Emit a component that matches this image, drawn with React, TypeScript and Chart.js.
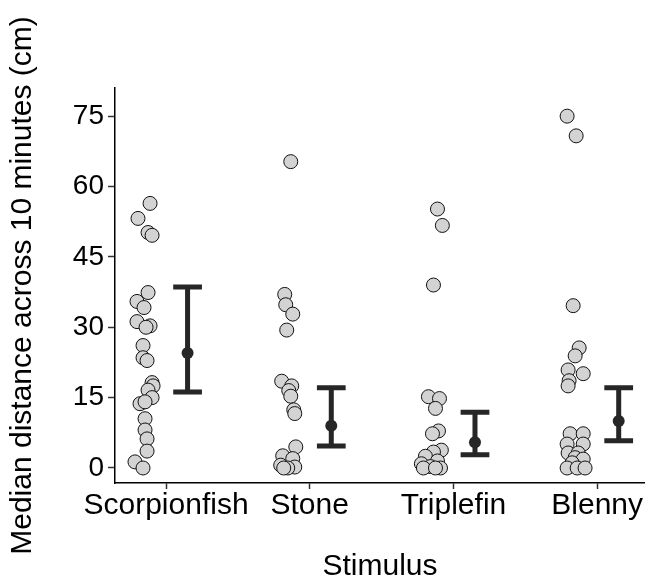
import React, { useEffect, useRef } from "react";
import { Chart, registerables } from "chart.js";

Chart.register(...registerables);

const categories = ["Scorpionfish", "Stone", "Triplefin", "Blenny"];
const yTicks = [0, 15, 30, 45, 60, 75];
const yTitle = "Median distance across 10 minutes (cm)";
const xTitle = "Stimulus";

// individual observations (cm) and their horizontal jitter (category units)
const scorpionfishValues = [56.4, 53.2, 50.2, 49.6, 37.4, 35.5, 34.2, 31.2, 30.3, 30.0, 26.1, 23.5, 22.9, 18.2, 17.5, 16.6, 15.0, 13.7, 14.1, 10.5, 8.1, 6.2, 3.6, 1.3, 0.0];
const scorpionfishJitter = [-0.111, -0.195, -0.125, -0.097, -0.125, -0.202, -0.153, -0.202, -0.111, -0.139, -0.16, -0.16, -0.132, -0.097, -0.09, -0.125, -0.097, -0.181, -0.146, -0.146, -0.146, -0.132, -0.132, -0.216, -0.16];

const stoneValues = [65.3, 37.0, 34.8, 32.8, 29.4, 18.5, 17.5, 16.5, 15.3, 12.4, 11.6, 4.5, 2.6, 2.0, 0.6, 0.2, 0.0, 0.0];
const stoneJitter = [-0.132, -0.174, -0.167, -0.118, -0.16, -0.195, -0.125, -0.146, -0.132, -0.111, -0.104, -0.097, -0.188, -0.118, -0.202, -0.104, -0.153, -0.181];

const triplefinValues = [55.2, 51.7, 39.0, 15.2, 14.8, 12.7, 7.9, 7.3, 3.8, 3.4, 2.5, 1.5, 0.9, 0.3, 0.0, 0.0, 0.0];
const triplefinJitter = [-0.111, -0.077, -0.139, -0.174, -0.097, -0.125, -0.104, -0.146, -0.084, -0.139, -0.195, -0.111, -0.223, -0.16, -0.09, -0.209, -0.125];

const blennyValues = [75.0, 70.8, 34.6, 25.6, 23.9, 20.9, 20.1, 18.6, 17.5, 7.3, 7.3, 5.1, 5.1, 3.2, 3.2, 2.2, 1.9, 1.1, 0.0, 0.0, 0.0];
const blennyJitter = [-0.209, -0.146, -0.167, -0.125, -0.153, -0.202, -0.097, -0.195, -0.202, -0.188, -0.097, -0.209, -0.097, -0.202, -0.132, -0.153, -0.097, -0.174, -0.209, -0.139, -0.084];

// summary: mean and interval
const means = [24.5, 9.0, 5.5, 10.0];
const lowerCI = [16.2, 4.7, 2.8, 5.8];
const upperCI = [38.6, 17.1, 11.9, 17.1];

const summaryOffset = 0.15;
const capHalf = 0.1;
const xMin = 0.645;
const xMax = 4.333;
const yMin = -3.2;
const yMax = 81;

const FONT = "'Liberation Sans', Arial, Helvetica, sans-serif";

export default function App() {
  const ref = useRef<HTMLCanvasElement>(null);

  useEffect(() => {
    const canvas = ref.current;
    if (!canvas) return;
    Chart.defaults.font.family = FONT;
    Chart.defaults.color = "#000";

    const valueSets = [scorpionfishValues, stoneValues, triplefinValues, blennyValues];
    const jitterSets = [scorpionfishJitter, stoneJitter, triplefinJitter, blennyJitter];
    const pointData = valueSets.flatMap((vals, g) =>
      vals.map((v, i) => ({ x: g + 1 + jitterSets[g][i], y: v }))
    );
    const meanData = means.map((m, g) => ({ x: g + 1 + summaryOffset, y: m }));

    const errorBars = {
      id: "errorBars",
      beforeDatasetsDraw(chart: any) {
        const { ctx, scales } = chart;
        const xs = scales.x;
        const ys = scales.y;
        ctx.save();
        ctx.strokeStyle = "#262626";
        ctx.lineWidth = 5;
        ctx.lineCap = "butt";
        means.forEach((_, g) => {
          const c = g + 1 + summaryOffset;
          const cx = xs.getPixelForValue(c);
          const xl = xs.getPixelForValue(c - capHalf);
          const xr = xs.getPixelForValue(c + capHalf);
          const yt = ys.getPixelForValue(upperCI[g]);
          const yb = ys.getPixelForValue(lowerCI[g]);
          ctx.beginPath();
          ctx.moveTo(cx, yt);
          ctx.lineTo(cx, yb);
          ctx.moveTo(xl, yt);
          ctx.lineTo(xr, yt);
          ctx.moveTo(xl, yb);
          ctx.lineTo(xr, yb);
          ctx.stroke();
        });
        ctx.restore();
      },
    };

    const yTitlePlugin = {
      id: "yTitle",
      afterDraw(chart: any) {
        const { ctx, chartArea } = chart;
        ctx.save();
        ctx.translate(23, (chartArea.top + chartArea.bottom) / 2);
        ctx.rotate(-Math.PI / 2);
        ctx.font = `30px ${FONT}`;
        ctx.fillStyle = "#000";
        ctx.textAlign = "center";
        ctx.textBaseline = "middle";
        ctx.fillText(yTitle, 0, 0);
        ctx.restore();
      },
    };

    const chart = new Chart(canvas, {
      type: "scatter",
      data: {
        datasets: [
          {
            label: "means",
            data: meanData,
            pointRadius: 6,
            pointBackgroundColor: "#262626",
            pointBorderColor: "#262626",
            pointBorderWidth: 0,
            order: 0,
          },
          {
            label: "observations",
            data: pointData,
            pointRadius: 7,
            pointBackgroundColor: "#D3D3D3",
            pointBorderColor: "#111",
            pointBorderWidth: 1,
            order: 1,
          },
        ],
      },
      options: {
        animation: false,
        responsive: false,
        layout: { autoPadding: false, padding: { top: 88, left: 0, right: 0, bottom: 0 } },
        plugins: {
          legend: { display: false },
          tooltip: { enabled: false },
        },
        scales: {
          x: {
            type: "linear",
            min: xMin,
            max: xMax,
            afterBuildTicks: (s: any) => {
              s.ticks = categories.map((_, i) => ({ value: i + 1 }));
            },
            afterFit: (s: any) => {
              s.height = 98;
              s.paddingLeft = 0;
              s.paddingRight = 0;
            },
            ticks: {
              callback: (_v: any, i: number) => categories[i] ?? "",
              font: { size: 30, lineHeight: 1 },
              color: "#000",
              padding: 2,
              autoSkip: false,
              maxRotation: 0,
              minRotation: 0,
            },
            grid: {
              drawOnChartArea: false,
              drawTicks: true,
              tickLength: 6,
              tickColor: "#333",
              tickWidth: 1.5,
            },
            border: { display: true, color: "#000", width: 1.5 },
            title: {
              display: true,
              text: xTitle,
              font: { size: 30, lineHeight: 0.93 },
              color: "#000",
              padding: 0,
            },
          },
          y: {
            type: "linear",
            min: yMin,
            max: yMax,
            afterBuildTicks: (s: any) => {
              s.ticks = yTicks.map((v) => ({ value: v }));
            },
            afterFit: (s: any) => {
              s.width = 115;
            },
            ticks: {
              callback: (v: any) => String(v),
              font: { size: 28 },
              color: "#000",
              padding: 4,
            },
            grid: {
              drawOnChartArea: false,
              drawTicks: true,
              tickLength: 7,
              tickColor: "#333",
              tickWidth: 1.5,
            },
            border: { display: true, color: "#000", width: 1.5 },
          },
        },
      },
      plugins: [errorBars, yTitlePlugin],
    });

    return () => chart.destroy();
  }, []);

  return (
    <div style={{ position: "fixed", left: 0, top: 0, width: 645, height: 581, background: "#fff" }}>
      <canvas ref={ref} width={645} height={581} style={{ width: 645, height: 581, display: "block" }} />
    </div>
  );
}
